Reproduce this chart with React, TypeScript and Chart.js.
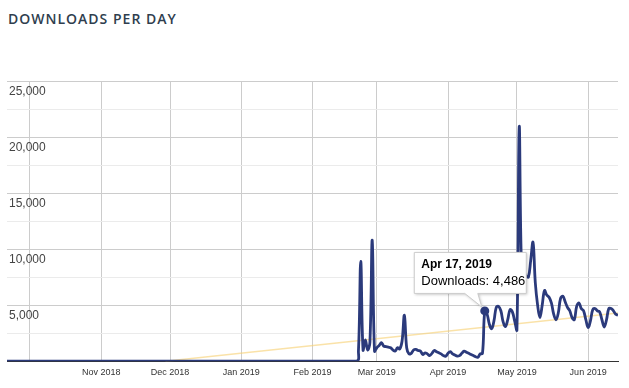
import React, { useEffect, useRef } from 'react';
import { Chart, registerables } from 'chart.js';

Chart.register(...registerables);

// ---- data ----
const seriesName = 'Downloads';
const flatStart = '2018-09-21'; // first day shown (0 downloads until Feb 20, 2019)
const dailyStart = '2019-02-20';
const febValues = [0, 900, 8900, 1000, 1900, 1000, 1700, 10800, 900]; // Feb 20-28
const marValues = [1200, 1400, 1650, 1350, 1300, 1250, 1200, 1000, 900, 1200, 1100, 1800, 4100, 1200, 650, 700, 1000, 1050, 950, 900, 600, 750, 650, 500, 700, 950, 850, 750, 650, 500, 450];
const aprValues = [700, 850, 650, 550, 450, 500, 700, 900, 800, 700, 600, 500, 400, 350, 650, 700, 4486, 4200, 3300, 2900, 3600, 4800, 4900, 4500, 3500, 3100, 3700, 4600, 4400, 3600];
const mayValues = [2800, 20900, 8300, 8000, 7600, 7500, 9000, 10600, 7000, 5000, 3900, 5000, 6300, 5900, 5700, 5200, 4200, 3700, 4300, 5600, 5800, 5300, 4800, 4500, 3900, 3700, 4900, 5200, 4700, 4500, 3700];
const junValues = [3000, 3600, 4600, 4700, 4500, 4400, 3700, 3050, 3700, 4700, 4700, 4500, 4200, 4100]; // Jun 1-14
const lastDay = '2019-06-14';

const trendDates = ['2018-11-29', '2019-06-14'];
const trendValues = [0, 4300];

const monthTicks = ['2018-10-01', '2018-11-01', '2018-12-01', '2019-01-01', '2019-02-01', '2019-03-01', '2019-04-01', '2019-05-01', '2019-06-01'];
const monthLabels = ['', 'Nov 2018', 'Dec 2018', 'Jan 2019', 'Feb 2019', 'Mar 2019', 'Apr 2019', 'May 2019', 'Jun 2019'];

const yMax = 25000;
const yStep = 2500;
const yLabelStep = 5000;

const highlightDate = '2019-04-17';
const highlightValue = 4486;

// ---- helpers ----
const day = (s: string) => Date.parse(s + 'T00:00:00Z') / 86400000;

const LINE = '#2b3a7b';
const FONT = '"Liberation Sans", Arial, sans-serif';

const calloutPlugin = {
  id: 'callout',
  afterDraw(chart: any) {
    const { ctx, scales } = chart;
    const px = scales.x.getPixelForValue(day(highlightDate));
    const py = scales.y.getPixelForValue(highlightValue);
    ctx.save();
    // point
    ctx.fillStyle = LINE;
    ctx.beginPath();
    ctx.arc(px, py, 4.5, 0, Math.PI * 2);
    ctx.fill();
    // box with tail
    const left = px - 70.5;
    const right = px + 41.5;
    const top = py - 58.5;
    const bottom = py - 17.5;
    ctx.beginPath();
    ctx.moveTo(left, top);
    ctx.lineTo(right, top);
    ctx.lineTo(right, bottom);
    ctx.lineTo(px - 7, bottom);
    ctx.lineTo(px - 3, py - 4);
    ctx.lineTo(px - 20, bottom);
    ctx.lineTo(left, bottom);
    ctx.closePath();
    ctx.shadowColor = 'rgba(0,0,0,0.25)';
    ctx.shadowBlur = 3;
    ctx.shadowOffsetX = 1;
    ctx.shadowOffsetY = 1;
    ctx.fillStyle = '#fff';
    ctx.fill();
    ctx.shadowColor = 'transparent';
    ctx.strokeStyle = '#cccccc';
    ctx.lineWidth = 1;
    ctx.stroke();
    // text
    const title = new Date(day(highlightDate) * 86400000).toLocaleDateString('en-US', {
      month: 'short', day: 'numeric', year: 'numeric', timeZone: 'UTC',
    });
    ctx.fillStyle = '#000';
    ctx.textBaseline = 'middle';
    ctx.textAlign = 'left';
    ctx.font = `bold 12px ${FONT}`;
    ctx.fillText(title, left + 7, top + 12);
    ctx.font = `13px ${FONT}`;
    ctx.fillText(`${seriesName}: ${highlightValue.toLocaleString('en-US')}`, left + 7, top + 29);
    ctx.restore();
  },
};

export default function App() {
  const ref = useRef<HTMLCanvasElement>(null);

  useEffect(() => {
    const daily = [...febValues, ...marValues, ...aprValues, ...mayValues, ...junValues];
    const d0 = day(dailyStart);
    const points = [{ x: day(flatStart), y: 0 }, ...daily.map((v, i) => ({ x: d0 + i, y: v }))];
    const trend = trendDates.map((s, i) => ({ x: day(s), y: trendValues[i] }));

    const chart = new Chart(ref.current!, {
      type: 'line',
      data: {
        datasets: [
          {
            label: seriesName,
            data: points,
            borderColor: LINE,
            borderWidth: 2.8,
            pointRadius: 0,
            tension: 0.4,
            fill: false,
          },
          {
            label: 'Trend',
            data: trend,
            borderColor: 'rgba(247, 206, 110, 0.6)',
            borderWidth: 1.5,
            pointRadius: 0,
            fill: false,
          },
        ],
      },
      options: {
        animation: false,
        responsive: false,
        devicePixelRatio: 1,
        layout: { padding: { left: 3, right: 11, top: 81, bottom: 4 } },
        plugins: { legend: { display: false }, tooltip: { enabled: false } },
        scales: {
          x: {
            type: 'linear',
            min: day(flatStart),
            max: day(lastDay),
            afterBuildTicks: (scale: any) => {
              scale.ticks = monthTicks.map((s) => ({ value: day(s) }));
            },
            ticks: {
              autoSkip: false,
              maxRotation: 0,
              padding: 6,
              color: '#333',
              font: { family: FONT, size: 9 },
              callback: (_v: any, i: number) => monthLabels[i],
            },
            grid: { color: '#cccccc', drawTicks: false },
            border: { display: true, color: '#333', width: 1 },
          },
          y: {
            min: 0,
            max: yMax,
            ticks: {
              stepSize: yStep,
              mirror: true,
              padding: 2,
              labelOffset: 11,
              autoSkip: false,
              color: '#444',
              font: { family: FONT, size: 12 },
              callback: (v: any) => (v > 0 && v % yLabelStep === 0 ? Number(v).toLocaleString('en-US') : ''),
            },
            grid: {
              drawTicks: false,
              color: (c: any) => (c.tick && c.tick.value % yLabelStep === 0 ? '#cccccc' : '#ebebeb'),
            },
            border: { display: false },
          },
        },
      },
      plugins: [calloutPlugin],
    });
    return () => chart.destroy();
  }, []);

  return (
    <div style={{ position: 'absolute', left: 0, top: 0, width: 629, height: 388, background: '#fff' }}>
      <div
        style={{
          position: 'absolute',
          left: 8,
          top: 9,
          fontFamily: '"Open Sans", sans-serif',
          fontSize: 14,
          lineHeight: '19px',
          fontWeight: 600,
          letterSpacing: '1px',
          color: '#2f3e4e',
        }}
      >
        DOWNLOADS PER DAY
      </div>
      <canvas ref={ref} width={629} height={388} style={{ position: 'absolute', left: 0, top: 0, width: 629, height: 388 }} />
    </div>
  );
}
